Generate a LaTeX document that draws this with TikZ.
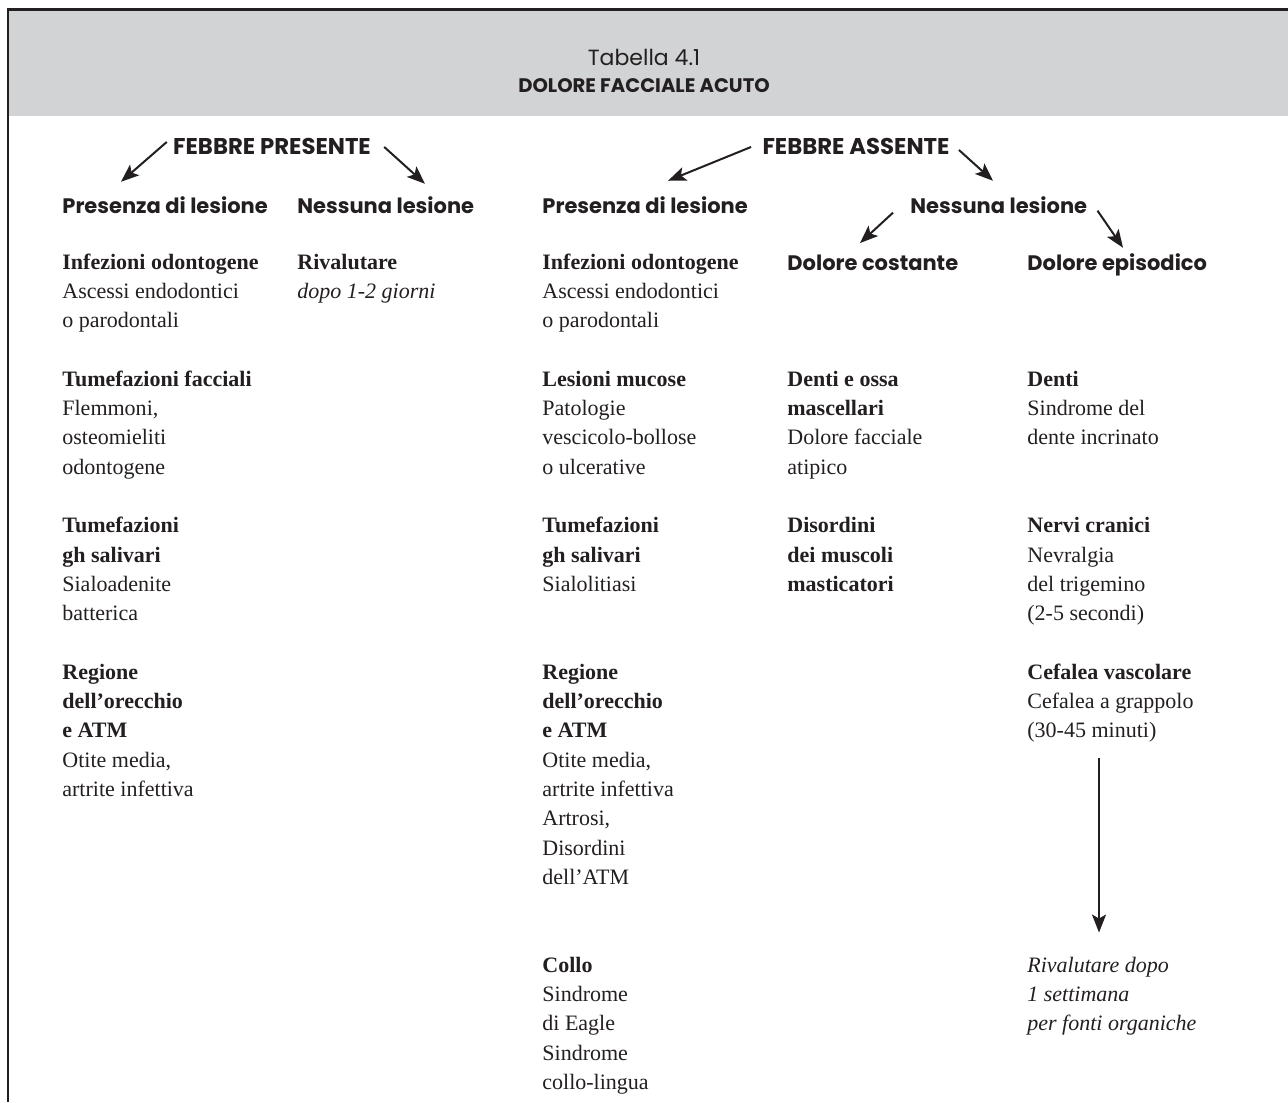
\documentclass[tikz,border=0pt]{standalone}
\usepackage{fontspec}
\setmainfont{Liberation Serif}
\newfontfamily\headfont{Poppins}
\usepackage{tikz}
\usetikzlibrary{calc}
\usetikzlibrary{arrows.meta}
\usetikzlibrary{positioning}
\definecolor{headgray}{HTML}{D1D3D4}
\definecolor{ink}{HTML}{231F20}
\tikzset{>={Stealth[length = 9pt, width = 7pt, inset = 2pt]}}
\tikzstyle{arr} = [->, line width = 1pt, draw = ink]
\tikzstyle{big} = [draw=none, inner sep = 0, anchor = base, text = ink, font = \headfont\bfseries\fontsize{11.4}{13}\selectfont]
\tikzstyle{sub} = [draw=none, inner sep = 0, anchor = base west, text = ink, font = \headfont\bfseries\fontsize{10.5}{12}\selectfont]
\tikzstyle{txt} = [draw=none, inner sep = 0, anchor = base west, align = left, text = ink, font = \fontsize{11}{14.65}\selectfont]

\begin{document}
\begin{tikzpicture}[x = 0.5pt, y = -0.5pt]
\useasboundingbox (0, 0) rectangle (1288, 1102);
\fill [headgray] (8, 10) rectangle (1288, 116);
\draw [ink, line width = 1.5pt] (7, 9.5) -- (1288, 9.5);
\draw [ink, line width = 1.1pt] (8, 9) -- (8, 1102);

\node [draw=none, inner sep = 0, anchor = base, text = ink, font = \headfont\fontsize{11}{13}\selectfont] (tab) at (644, 66) {Tabella 4.1};
\node [big, font = \headfont\bfseries\fontsize{9.8}{12}\selectfont] (ttl) at (644, 92) {DOLORE FACCIALE ACUTO};

\node [big] (fp) at (272, 154) {FEBBRE PRESENTE};
\node [big] (fa) at (856, 154) {FEBBRE ASSENTE};
\node [sub] (pl1) at (62, 213) {Presenza di lesione};
\node [sub] (nl2) at (297, 213) {Nessuna lesione};
\node [sub] (pl3) at (542, 213) {Presenza di lesione};
\node [sub] (nl4) at (910, 213) {Nessuna lesione};
\node [sub] (dc4) at (787, 270) {Dolore costante};
\node [sub] (de5) at (1027, 270) {Dolore episodico};

\draw [arr] ($(fp.west) + (-6, -4)$) -- ($(pl1.north west) + (59, -14)$);
\draw [arr] ($(fp.east) + (13, 1)$) -- ($(nl2.north west) + (128, -12)$);
\draw [arr] ($(fa.west) + (-11, 1)$) -- ($(pl3.north west) + (126, -15)$);
\draw [arr] ($(fa.east) + (9, 4)$) -- ($(nl4.north west) + (83, -15)$);
\draw [arr] ($(nl4.west) + (-17, 8)$) -- ($(dc4.north west) + (73, -11)$);
\draw [arr] ($(nl4.east) + (10, 6)$) -- ($(de5.north west) + (96, -5)$);

\node [txt] (io1) at (62, 327.6) {\textbf{Infezioni odontogene}\\Ascessi endodontici\\o parodontali};
\node [txt] (tf1) at (62, 474.1) {\textbf{Tumefazioni facciali}\\Flemmoni,\\osteomieliti\\odontogene};
\node [txt] (gs1) at (62, 620.6) {\textbf{Tumefazioni}\\\textbf{gh salivari}\\Sialoadenite\\batterica};
\node [txt] (ro1) at (62, 796.4) {\textbf{Regione}\\\textbf{dell'orecchio}\\\textbf{e ATM}\\Otite media,\\artrite infettiva};

\node [txt] (rv2) at (297, 298.3) {\textbf{Rivalutare}\\\textit{dopo 1-2 giorni}};

\node [txt] (io3) at (542, 327.6) {\textbf{Infezioni odontogene}\\Ascessi endodontici\\o parodontali};
\node [txt] (lm3) at (542, 474.1) {\textbf{Lesioni mucose}\\Patologie\\vescicolo-bollose\\o ulcerative};
\node [txt] (gs3) at (542, 591.3) {\textbf{Tumefazioni}\\\textbf{gh salivari}\\Sialolitiasi};
\node [txt] (ro3) at (542, 884.3) {\textbf{Regione}\\\textbf{dell'orecchio}\\\textbf{e ATM}\\Otite media,\\artrite infettiva\\Artrosi,\\Disordini\\dell'ATM};
\node [txt] (co3) at (542, 1089.4) {\textbf{Collo}\\Sindrome\\di Eagle\\Sindrome\\collo-lingua};

\node [txt] (dm4) at (787, 474.1) {\textbf{Denti e ossa}\\\textbf{mascellari}\\Dolore facciale\\atipico};
\node [txt] (mm4) at (787, 591.3) {\textbf{Disordini}\\\textbf{dei muscoli}\\\textbf{masticatori}};

\node [txt] (dn5) at (1027, 444.8) {\textbf{Denti}\\Sindrome del\\dente incrinato};
\node [txt] (nc5) at (1027, 620.6) {\textbf{Nervi cranici}\\Nevralgia\\del trigemino\\(2-5 secondi)};
\node [txt] (cv5) at (1027, 737.8) {\textbf{Cefalea vascolare}\\Cefalea a grappolo\\(30-45 minuti)};
\node [txt] (rv5) at (1027, 1030.8) {\textit{Rivalutare dopo}\\\textit{1 settimana}\\\textit{per fonti organiche}};

\draw [arr] ($(cv5.south west) + (72, 15)$) -- ($(rv5.north west) + (72, -24)$);
\end{tikzpicture}
\end{document}
